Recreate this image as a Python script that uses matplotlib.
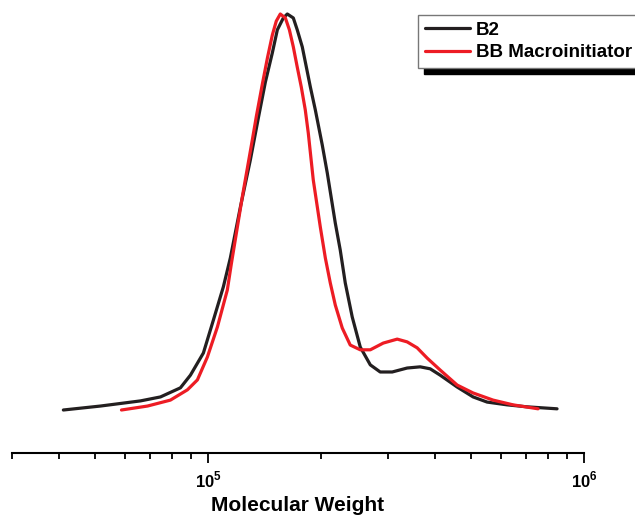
import numpy as np
import matplotlib
matplotlib.use("Agg")
import matplotlib.pyplot as plt
from matplotlib.ticker import LogLocator, FixedLocator, NullFormatter

# GPC traces (molecular weight vs normalised detector signal)
b2_mw = [41100, 51600, 65950, 74540, 84240, 89570, 96980, 103100, 109600, 114400,
         121700, 129300, 135800, 141800, 148000, 152600, 158300, 162200, 168300, 172400,
         177800, 182300, 186800, 192600, 201000, 207300, 217700, 224400, 231400, 241500,
         253700, 269800, 286700, 308600, 338200, 366300, 389500, 414000, 459500, 506700,
         552100, 624200, 705300, 847700]
b2_signal = [0.000, 0.010, 0.023, 0.033, 0.056, 0.088, 0.144, 0.227, 0.311, 0.384,
             0.513, 0.631, 0.737, 0.828, 0.902, 0.960, 0.990, 1.000, 0.990, 0.960,
             0.917, 0.866, 0.816, 0.758, 0.669, 0.598, 0.472, 0.404, 0.321, 0.235,
             0.159, 0.114, 0.096, 0.096, 0.106, 0.109, 0.104, 0.088, 0.058, 0.033,
             0.020, 0.013, 0.008, 0.003]

bb_mw = [58690, 68850, 79230, 87940, 93480, 99390, 105700, 112300, 115100, 123100,
         130900, 134200, 139200, 143600, 148000, 151600, 155400, 160300, 164300, 168300,
         172400, 176700, 181100, 184500, 190200, 198600, 204800, 211100, 217700, 227200,
         238600, 253700, 269800, 292100, 318200, 338200, 359600, 382400, 414000, 459500,
         506700, 572800, 647400, 754500]
bb_signal = [0.000, 0.010, 0.025, 0.051, 0.076, 0.134, 0.210, 0.303, 0.369, 0.538,
             0.682, 0.742, 0.823, 0.889, 0.947, 0.982, 1.000, 0.990, 0.960, 0.917,
             0.866, 0.816, 0.758, 0.699, 0.581, 0.462, 0.384, 0.321, 0.265, 0.207,
             0.164, 0.152, 0.152, 0.169, 0.179, 0.172, 0.157, 0.131, 0.101, 0.063,
             0.043, 0.025, 0.013, 0.003]

labels = ["B2", "BB Macroinitiator"]
colors = ["#231f20", "#ed1c24"]

plt.rcParams['font.family'] = ['Liberation Sans', 'DejaVu Sans']
plt.rcParams['mathtext.fontset'] = 'custom'
plt.rcParams['mathtext.rm'] = 'Liberation Sans:bold'
plt.rcParams['mathtext.bf'] = 'Liberation Sans:bold'


def main():
    fig = plt.figure(figsize=(6.35, 5.15), dpi=100)
    ax = fig.add_axes([12 / 635, 1 - 453 / 515, 572 / 635, 453 / 515])

    ax.plot(b2_mw, b2_signal, color=colors[0], lw=2.3, label=labels[0],
            solid_joinstyle='round', solid_capstyle='round')
    ax.plot(bb_mw, bb_signal, color=colors[1], lw=2.3, label=labels[1],
            solid_joinstyle='round', solid_capstyle='round')

    ax.set_xscale('log')
    ax.set_xlim(3e4, 1e6)
    ax.set_ylim(-43 / 396, 410 / 396)

    for s in ['top', 'right', 'left']:
        ax.spines[s].set_visible(False)
    ax.spines['bottom'].set_linewidth(1.5)
    ax.set_yticks([])

    ax.xaxis.set_major_locator(FixedLocator([1e5, 1e6]))
    ax.xaxis.set_minor_locator(LogLocator(base=10, subs=np.arange(2, 10)))
    ax.xaxis.set_minor_formatter(NullFormatter())
    ax.set_xticklabels([r'$10^{5}$', r'$10^{6}$'])
    ax.tick_params(axis='x', which='major', direction='out', length=7, width=1.3,
                   labelsize=12, pad=5)
    ax.tick_params(axis='x', which='minor', direction='out', length=4.5, width=1.3)

    ax.set_xlabel('Molecular Weight', fontsize=15, fontweight='bold', labelpad=4)

    leg = fig.legend(loc='upper left', bbox_to_anchor=(418 / 635, 1 - 15 / 515),
                     prop={'weight': 'bold', 'size': 13.5}, handlelength=2.4,
                     handletextpad=0.35, borderaxespad=0, borderpad=0.35,
                     labelspacing=0.3, fancybox=False, framealpha=1,
                     shadow={'ox': 4, 'oy': -4, 'color': 'black', 'alpha': 1})
    leg.get_frame().set_edgecolor('#777777')
    leg.get_frame().set_linewidth(1.0)
    for line in leg.get_lines():
        line.set_linewidth(2.3)

    fig.savefig('out.png', dpi=100)


if __name__ == '__main__':
    main()
